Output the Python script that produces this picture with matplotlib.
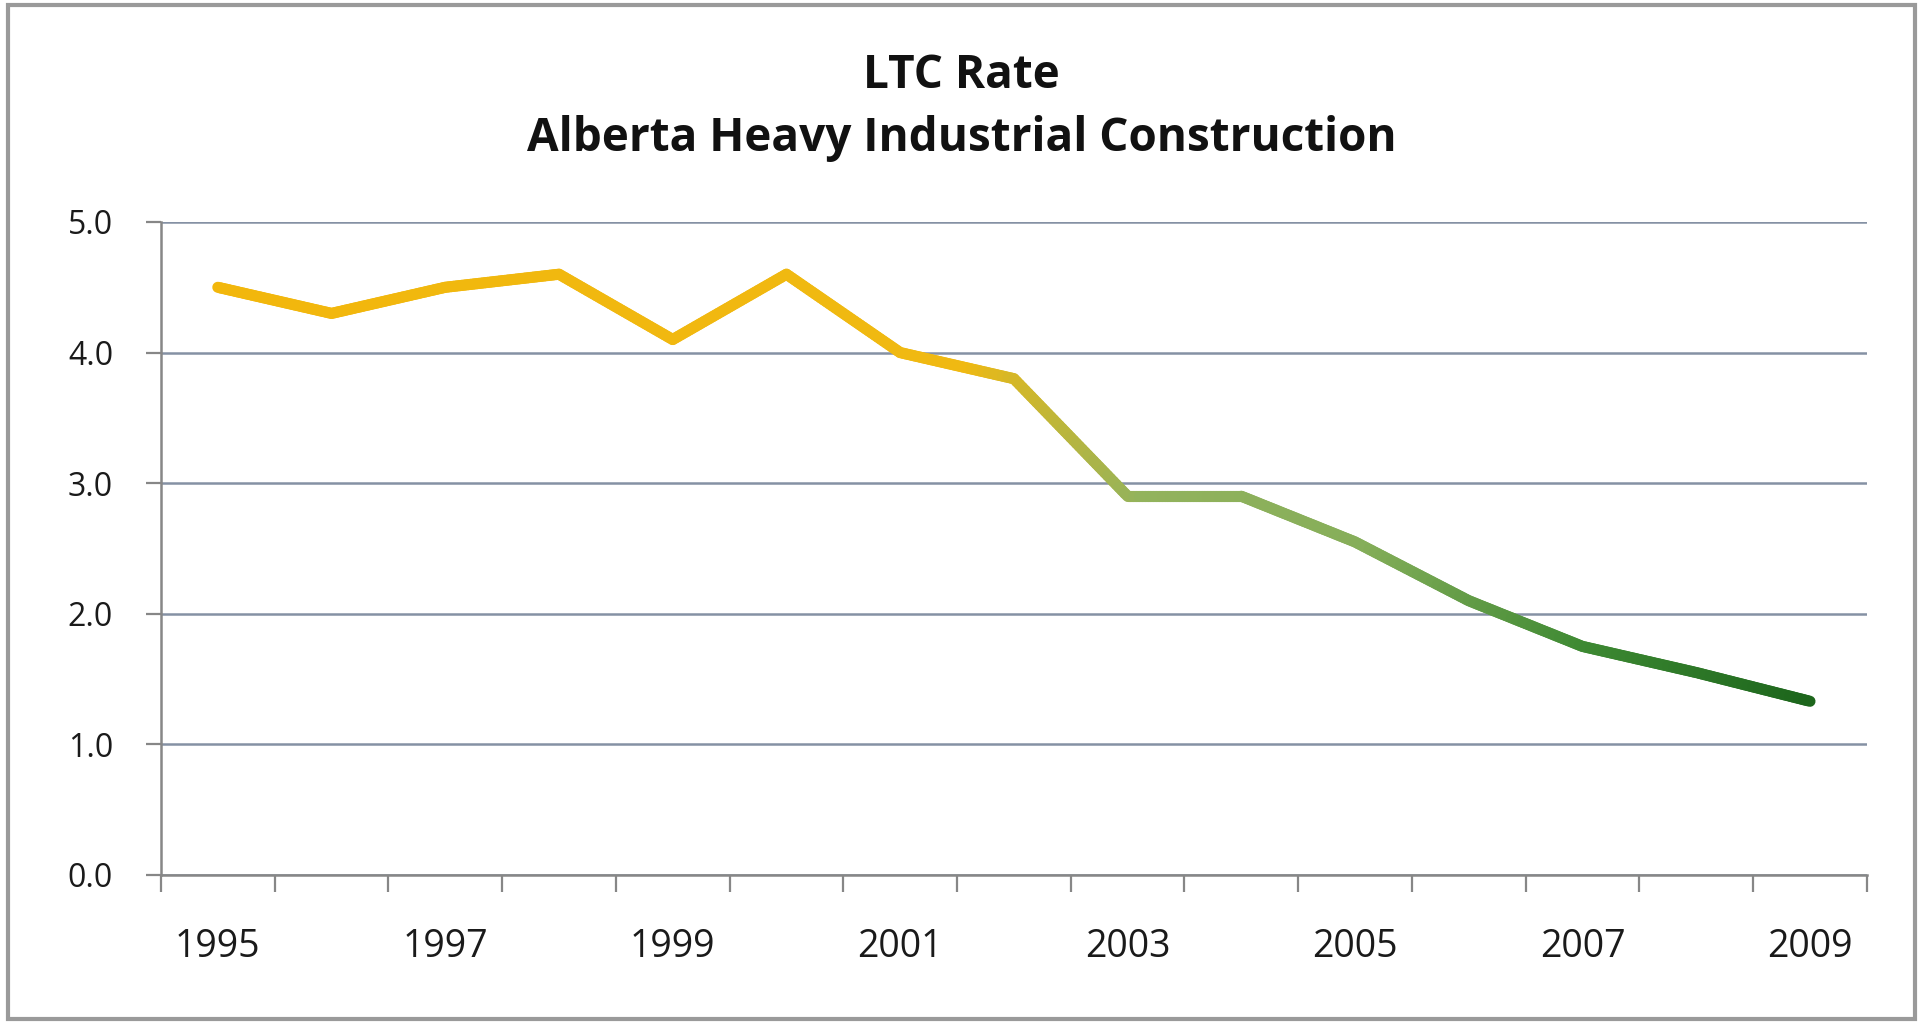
import numpy as np
import matplotlib
matplotlib.use("Agg")
import matplotlib.pyplot as plt
from matplotlib.collections import LineCollection
from matplotlib.colors import LinearSegmentedColormap
from matplotlib.patches import Rectangle

years = [1995, 1996, 1997, 1998, 1999, 2000, 2001, 2002,
         2003, 2004, 2005, 2006, 2007, 2008, 2009]
ltc_rate = [4.5, 4.3, 4.5, 4.6, 4.1, 4.6, 4.0, 3.8,
            2.9, 2.9, 2.55, 2.1, 1.75, 1.55, 1.33]
title_lines = ["LTC Rate", "Alberta Heavy Industrial Construction"]
y_ticks = [0.0, 1.0, 2.0, 3.0, 4.0, 5.0]

plt.rcParams['font.family'] = ['Open Sans', 'DejaVu Sans']

fig = plt.figure(figsize=(19.23, 10.23), dpi=100)
fig.patch.set_facecolor('white')
ax = fig.add_axes([0.0837, 0.1447, 0.8871, 0.6383])

x = np.arange(len(years))
y = np.array(ltc_rate)

# gradient line (gold -> light green -> dark green)
cmap = LinearSegmentedColormap.from_list(
    "ltc", [(0.0, "#F2B70C"), (0.47, "#F0B912"), (0.58, "#93B35C"),
            (0.72, "#86AE5A"), (0.86, "#3E8A33"), (1.0, "#1D661C")])
n_sub = 40
xs, ys = [], []
for i in range(len(x) - 1):
    t = np.linspace(0, 1, n_sub, endpoint=False)
    xs.append(x[i] + t * (x[i + 1] - x[i]))
    ys.append(y[i] + t * (y[i + 1] - y[i]))
xs.append([x[-1]]); ys.append([y[-1]])
xs = np.concatenate(xs); ys = np.concatenate(ys)
pts = np.column_stack([xs, ys]).reshape(-1, 1, 2)
segs = np.concatenate([pts[:-1], pts[1:]], axis=1)
lc = LineCollection(segs, cmap=cmap, linewidths=8.0, capstyle='round', joinstyle='round', zorder=3)
lc.set_array((xs[:-1] + xs[1:]) / 2 / (len(x) - 1))
lc.set_clim(0, 1)
ax.add_collection(lc)

ax.set_xlim(-0.5, len(years) - 0.5)
ax.set_ylim(0, 5.0)
ax.set_yticks(y_ticks)
ax.set_yticklabels([f"{v:.1f}" for v in y_ticks])
ax.yaxis.grid(True, color="#8591A4", linewidth=1.8, zorder=1)
ax.set_axisbelow(True)

# category axis: tick marks between categories, labels every other year
ax.set_xticks(np.arange(-0.5, len(years), 1.0))
ax.set_xticklabels([])
ax.set_xticks(x[::2], minor=True)
ax.set_xticklabels([str(v) for v in years[::2]], minor=True)
ax.tick_params(axis='x', which='major', length=12, width=1.6, color="#878787", direction='out')
ax.tick_params(axis='x', which='minor', length=0, pad=38, labelsize=27, labelcolor="#1a1a1a")
ax.tick_params(axis='y', length=10.5, width=1.6, color="#878787", pad=24, labelsize=23, labelcolor="#1a1a1a")

for s in ['top', 'right']:
    ax.spines[s].set_visible(False)
for s in ['left', 'bottom']:
    ax.spines[s].set_color("#878787")
    ax.spines[s].set_linewidth(1.8)
ax.patch.set_alpha(0)

fig.text(0.5, 0.926, title_lines[0], ha='center', va='center', fontsize=33, fontweight='bold', color="#111111")
fig.text(0.5, 0.865, title_lines[1], ha='center', va='center', fontsize=33, fontweight='bold', color="#111111")

fig.patches.append(Rectangle((0.004, 0.004), 0.992, 0.991, transform=fig.transFigure,
                             fill=False, edgecolor="#9a9a9a", linewidth=3))

fig.savefig("out.png", dpi=100, facecolor='white')
